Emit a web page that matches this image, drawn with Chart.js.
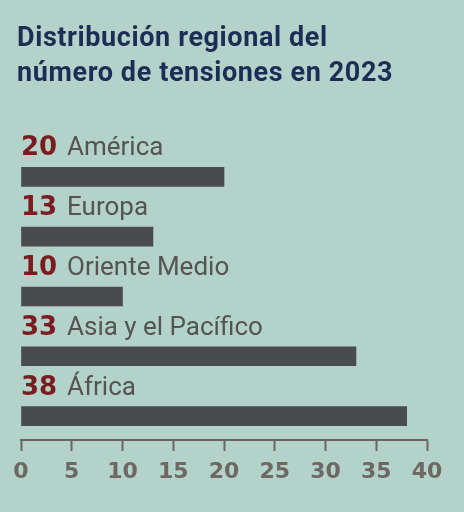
<!DOCTYPE html>
<html><head><meta charset="utf-8">
<script src="https://cdn.jsdelivr.net/npm/chart.js@4"></script>
<style>
html,body{margin:0;padding:0;background:#b3d3ca;}
#wrap{position:relative;width:464px;height:512px;overflow:hidden;}
canvas{position:absolute;left:0;top:0;}
#title{position:absolute;left:17px;top:20px;font:700 27px Roboto,sans-serif;line-height:35px;color:#1d2e56;letter-spacing:0.6px;white-space:nowrap;}
</style></head>
<body>
<div id="wrap">
<canvas id="c" width="464" height="512"></canvas>
<div id="title">Distribución regional del<br>número de tensiones en 2023</div>
</div>
<script>
const categories = ['América', 'Europa', 'Oriente Medio', 'Asia y el Pacífico', 'África'];
const values = [20, 13, 10, 33, 38];
const xTicks = [0, 5, 10, 15, 20, 25, 30, 35, 40];

const labelPlugin = {
  id: 'barLabels',
  afterDatasetsDraw(chart) {
    const ctx = chart.ctx;
    const meta = chart.getDatasetMeta(0);
    meta.data.forEach((bar, i) => {
      const y = bar.y - 21.5;
      ctx.save();
      ctx.textBaseline = 'alphabetic';
      ctx.textAlign = 'left';
      ctx.font = 'bold 26px "DejaVu Sans"';
      ctx.fillStyle = '#7b1d20';
      ctx.fillText(String(values[i]), 21, y);
      ctx.font = '26px Roboto';
      ctx.fillStyle = '#555354';
      ctx.fillText(categories[i], 67, y);
      ctx.restore();
    });
  }
};

new Chart(document.getElementById('c'), {
  type: 'bar',
  data: {
    labels: categories,
    datasets: [{
      data: values.map((v, i) => ({x: v, y: i})),
      backgroundColor: '#4a4b4f',
      barThickness: 19
    }]
  },
  options: {
    indexAxis: 'y',
    responsive: false,
    animation: false,
    layout: {padding: {left: 21, right: 37, top: 147, bottom: 18.6}},
    plugins: {legend: {display: false}, tooltip: {enabled: false}, title: {display: false}},
    scales: {
      y: {type: 'linear', reverse: true, min: -0.5, max: 4.4, offset: false, grace: 0, display: false},
      x: {
        type: 'linear', position: 'bottom', min: 0, max: 40,
        afterBuildTicks: s => { s.ticks = xTicks.map(v => ({value: v})); },
        grid: {display: true, drawOnChartArea: false, drawTicks: true, tickLength: 11, tickWidth: 2, tickColor: '#6b6562'},
        border: {display: true, color: '#6b6562', width: 2},
        ticks: {padding: 8, color: '#6e6865', font: {family: 'DejaVu Sans', size: 22, weight: 'bold'}}
      }
    }
  },
  plugins: [labelPlugin]
});
</script>
</body></html>
